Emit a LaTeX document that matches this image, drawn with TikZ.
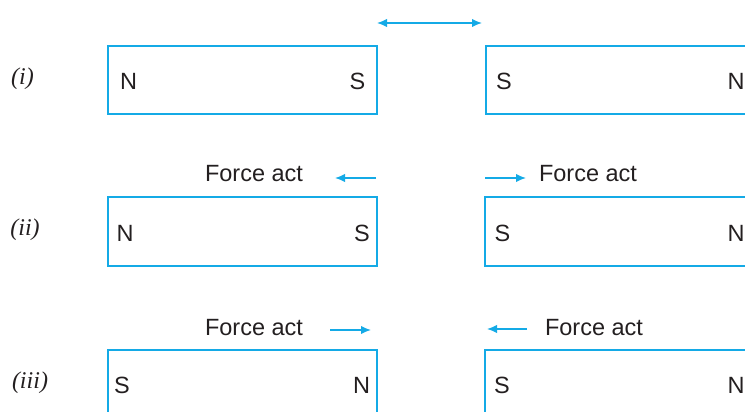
\documentclass[tikz,border=0pt]{standalone}
\usepackage{fontspec}
\setmainfont{Liberation Sans}
\newfontfamily\labfont{Liberation Serif}
\usetikzlibrary{arrows.meta}
\definecolor{magcyan}{RGB}{20,170,230}
\definecolor{txt}{RGB}{35,31,32}
\tikzset{
  magnet/.style={draw=magcyan, line width=2pt, rectangle, inner sep=0pt, minimum height=68.5pt},
  pole/.style={inner sep=0pt, text=txt, font=\fontsize{23.5}{28}\selectfont},
  forcetxt/.style={inner sep=0pt, text=txt, font=\fontsize{23.5}{28}\selectfont},
  rowlab/.style={inner sep=0pt, text=txt, font=\labfont\itshape\fontsize{24}{30}\selectfont},
  farrow/.style={draw=magcyan, line width=1.5pt, -{Latex[length=10pt,width=8.5pt]}},
  darrow/.style={draw=magcyan, line width=1.5pt, {Latex[length=10pt,width=8.5pt]}-{Latex[length=10pt,width=8.5pt]}}
}
\begin{document}
\begin{tikzpicture}[x=1pt,y=-1pt]
\useasboundingbox (0,0) rectangle (745,412);
\clip (0,0) rectangle (745,412);
% row (i)
\node[rowlab] (li) at (22.5,79) {(i)};
\node[magnet, minimum width=269pt] (b1l) at (242.5,80) {};
\node[magnet, minimum width=314pt] (b1r) at (643,80) {};
\node[pole] (n1l) at (128.5,81) {N};
\node[pole] (s1l) at (357.5,81) {S};
\node[pole] (s1r) at (504,81) {S};
\node[pole] (n1r) at (736,81) {N};
\coordinate (t1a) at (377,23);
\coordinate (t1b) at (482,23);
\draw[darrow] (t1a) -- (t1b);
% row (ii)
\node[rowlab] (lii) at (25,230) {(ii)};
\node[magnet, minimum width=269pt] (b2l) at (242.5,231.5) {};
\node[magnet, minimum width=314pt] (b2r) at (642,231.5) {};
\node[pole] (n2l) at (125,233) {N};
\node[pole] (s2l) at (362,233) {S};
\node[pole] (s2r) at (502.5,233) {S};
\node[pole] (n2r) at (736,233) {N};
\node[forcetxt] (f2l) at (254,174) {Force act};
\node[forcetxt] (f2r) at (588,174) {Force act};
\coordinate (a2lt) at (376,178);
\coordinate (a2lh) at (335,178);
\coordinate (a2rt) at (485,178);
\coordinate (a2rh) at (526,178);
\draw[farrow] (a2lt) -- (a2lh);
\draw[farrow] (a2rt) -- (a2rh);
% row (iii)
\node[rowlab] (liii) at (30,383) {(iii)};
\node[magnet, minimum width=269pt] (b3l) at (242.5,384) {};
\node[magnet, minimum width=314pt] (b3r) at (642,384) {};
\node[pole] (s3l) at (122,385) {S};
\node[pole] (n3l) at (361.5,385) {N};
\node[pole] (s3r) at (502,385) {S};
\node[pole] (n3r) at (736,385) {N};
\node[forcetxt] (f3l) at (254,328) {Force act};
\node[forcetxt] (f3r) at (594,328) {Force act};
\coordinate (a3lt) at (330,330);
\coordinate (a3lh) at (371,330);
\coordinate (a3rt) at (527,329);
\coordinate (a3rh) at (487,329);
\draw[farrow] (a3lt) -- (a3lh);
\draw[farrow] (a3rt) -- (a3rh);
\end{tikzpicture}
\end{document}
